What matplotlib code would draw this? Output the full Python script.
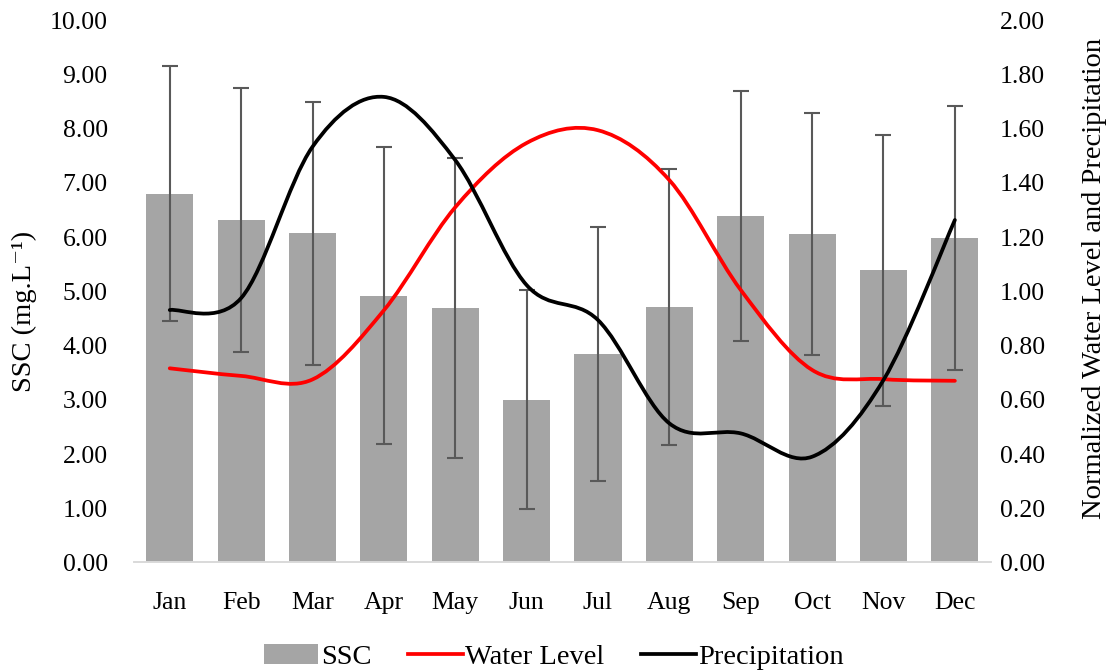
import numpy as np
import matplotlib
matplotlib.use("Agg")
import matplotlib.pyplot as plt
from matplotlib.path import Path
from matplotlib.patches import PathPatch, Patch
from matplotlib.lines import Line2D
from matplotlib.ticker import FormatStrFormatter

plt.rcParams['font.family'] = ['Liberation Serif', 'DejaVu Serif']
plt.rcParams['font.size'] = 18.5

months = ['Jan', 'Feb', 'Mar', 'Apr', 'May', 'Jun',
          'Jul', 'Aug', 'Sep', 'Oct', 'Nov', 'Dec']
ssc = [6.80, 6.31, 6.07, 4.92, 4.69, 3.00, 3.85, 4.71, 6.39, 6.05, 5.39, 5.98]
ssc_err = [2.35, 2.43, 2.42, 2.74, 2.77, 2.02, 2.34, 2.54, 2.30, 2.23, 2.50, 2.43]
water_level = [0.716, 0.688, 0.675, 0.93, 1.31, 1.547, 1.594, 1.41, 1.005, 0.71, 0.676, 0.670]
precipitation = [0.931, 0.975, 1.533, 1.717, 1.484, 1.023, 0.894, 0.513, 0.476, 0.39, 0.673, 1.263]


def smooth_path(x, y):
    # Excel-style smoothed line: cubic Bezier segments with Catmull-Rom tangents
    x = np.asarray(x, float)
    y = np.asarray(y, float)
    n = len(x)
    verts = [(x[0], y[0])]
    codes = [Path.MOVETO]
    for i in range(n - 1):
        p0 = np.array([x[max(i - 1, 0)], y[max(i - 1, 0)]])
        p1 = np.array([x[i], y[i]])
        p2 = np.array([x[i + 1], y[i + 1]])
        p3 = np.array([x[min(i + 2, n - 1)], y[min(i + 2, n - 1)]])
        c1 = p1 + (p2 - p0) / 6.0
        c2 = p2 - (p3 - p1) / 6.0
        verts += [tuple(c1), tuple(c2), tuple(p2)]
        codes += [Path.CURVE4] * 3
    return Path(verts, codes)


fig = plt.figure(figsize=(11.08, 6.72), dpi=100)
ax = fig.add_axes([0.121, 0.163, 0.773, 0.807])
ax2 = ax.twinx()

x = np.arange(len(months))
ax.bar(x, ssc, width=0.66, color='#A5A5A5', zorder=2)
ax.errorbar(x, ssc, yerr=ssc_err, fmt='none', ecolor='#595959',
            elinewidth=1.5, capsize=6, capthick=1.5, zorder=3)

ax.set_xlim(-0.5, len(months) - 0.5)
ax.set_ylim(0, 10)
ax.set_yticks(np.arange(0, 10.01, 1))
ax.yaxis.set_major_formatter(FormatStrFormatter('%.2f'))
ax.set_xticks(x)
ax.set_xticklabels(months)
ax.set_ylabel('SSC (mg.L⁻¹)', fontsize=20.5)
ax.yaxis.set_label_coords(-0.113, 0.462)

ax2.set_ylim(0, 2)
ax2.set_yticks(np.arange(0, 2.001, 0.2))
ax2.yaxis.set_major_formatter(FormatStrFormatter('%.2f'))
ax2.set_ylabel('Normalized Water Level and Precipitation', fontsize=20.5)
ax2.yaxis.set_label_coords(1.107, 0.524)

for series, col in [(water_level, '#FF0000'), (precipitation, '#000000')]:
    ax2.add_patch(PathPatch(smooth_path(x, series), facecolor='none',
                            edgecolor=col, linewidth=2.7, capstyle='round',
                            zorder=4))

for a in (ax, ax2):
    for side in ('top', 'left', 'right'):
        a.spines[side].set_visible(False)
    a.spines['bottom'].set_color('#D9D9D9')
    a.spines['bottom'].set_linewidth(1.2)
    a.tick_params(length=0, colors='black', labelsize=18.5)
ax.tick_params(axis='x', pad=21)
ax.tick_params(axis='y', pad=19)
ax2.tick_params(axis='y', pad=6.5)

handles = [Patch(facecolor='#A5A5A5'),
           Line2D([], [], color='#FF0000', linewidth=2.7),
           Line2D([], [], color='#000000', linewidth=2.7)]
fig.legend(handles, ['SSC', 'Water Level', 'Precipitation'], loc='center',
           bbox_to_anchor=(0.5, 0.022), ncol=3, frameon=False,
           handlelength=1.9, handletextpad=0.1, columnspacing=1.3,
           fontsize=20.5)

fig.savefig('out.png', dpi=100)
